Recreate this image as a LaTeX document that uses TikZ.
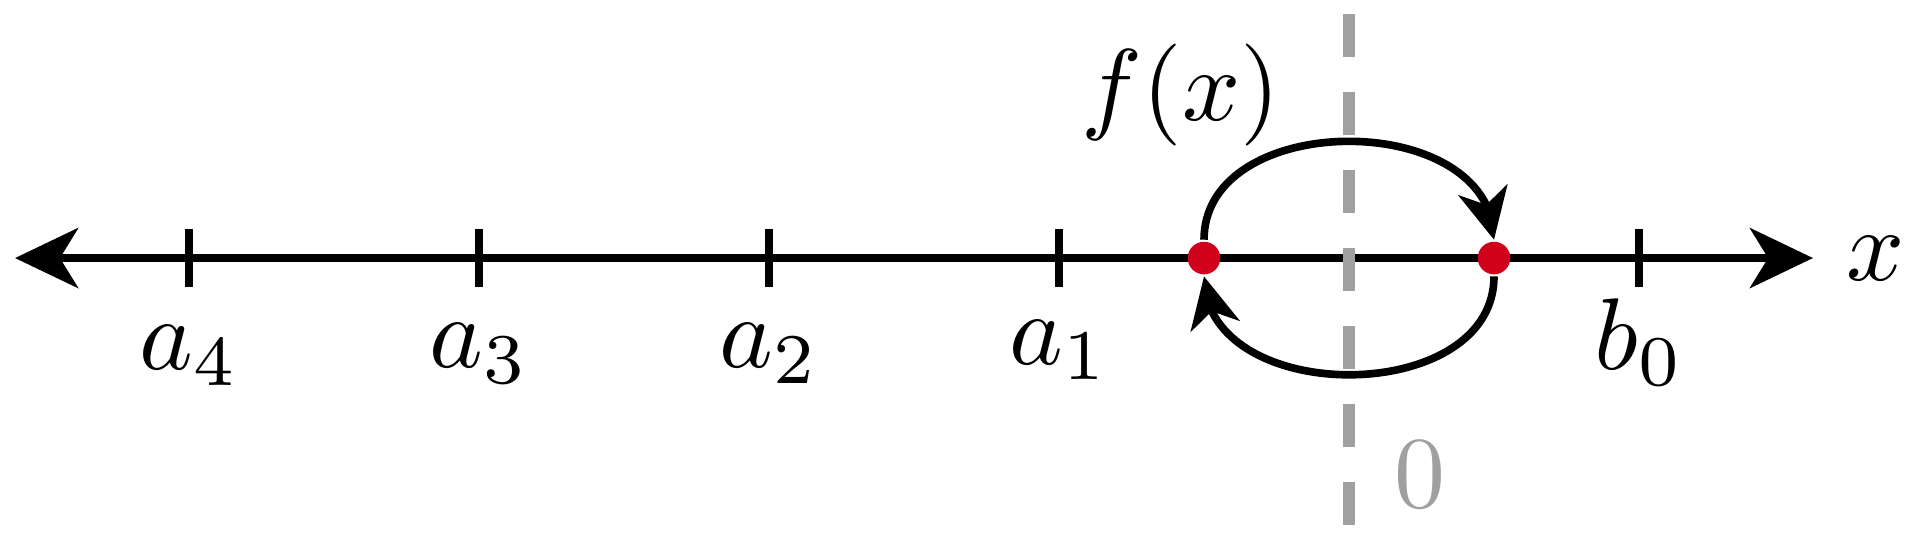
\documentclass[tikz,border=0pt]{standalone}
\usetikzlibrary{arrows.meta,bending}
\definecolor{dotred}{RGB}{208,2,27}
\definecolor{zerogray}{RGB}{160,160,160}
\tikzset{
  axisline/.style={line width=0.7pt,{Stealth[length=6.2pt,width=5.9pt,inset=1.8pt]}-{Stealth[length=6.2pt,width=5.9pt,inset=1.8pt]}},
  tickline/.style={line width=0.7pt},
  zeroline/.style={line width=1.2pt,zerogray,dash pattern=on 4.22pt off 3.43pt},
  fixdot/.style={circle,fill=dotred,inner sep=0pt,minimum size=3.2pt},
  maparrow/.style={line width=0.75pt,-{Stealth[length=5pt,width=4.9pt,inset=1.5pt]}},
  ticklabel/.style={anchor=base,inner sep=0pt}
}
\begin{document}
\begin{tikzpicture}[x=1cm,y=1cm]
\useasboundingbox (-4.652,-0.983) rectangle (1.969,0.890);
% axis
\coordinate (axL) at (-4.6,0);
\coordinate (axR) at (1.6,0);
\draw[axisline] (axL) -- (axR);
% ticks
\foreach \x/\n in {-4/t4,-3/t3,-2/t2,-1/t1,1/tb}{
  \coordinate (\n top) at (\x,0.1);
  \coordinate (\n bot) at (\x,-0.1);
  \draw[tickline] (\n top) -- (\n bot);
}
% dashed zero line
\coordinate (zt) at (0,0.841);
\coordinate (zb) at (0,-0.928);
\draw[zeroline] (zt) -- (zb);
% fixed points
\node[fixdot] (p1) at (-0.5,0) {};
\node[fixdot] (p2) at (0.5,0) {};
% map arrows
\draw[maparrow] (p1) to[out=90,in=90,looseness=1.16] (p2);
\draw[maparrow] (p2) to[out=-90,in=-90,looseness=1.16] (p1);
% labels
\node[ticklabel] (la4) at (-4,-0.386) {$a_4$};
\node[ticklabel] (la3) at (-3,-0.379) {$a_3$};
\node[ticklabel] (la2) at (-2,-0.379) {$a_2$};
\node[ticklabel] (la1) at (-1,-0.366) {$a_1$};
\node[ticklabel] (lb0) at (1,-0.386) {$b_0$};
\node (lx) at (1.817,0) {$x$};
\node (lf) at (-0.58,0.562) {$f(x)$};
\node[text=zerogray] (l0) at (0.245,-0.748) {$0$};
\end{tikzpicture}
\end{document}
